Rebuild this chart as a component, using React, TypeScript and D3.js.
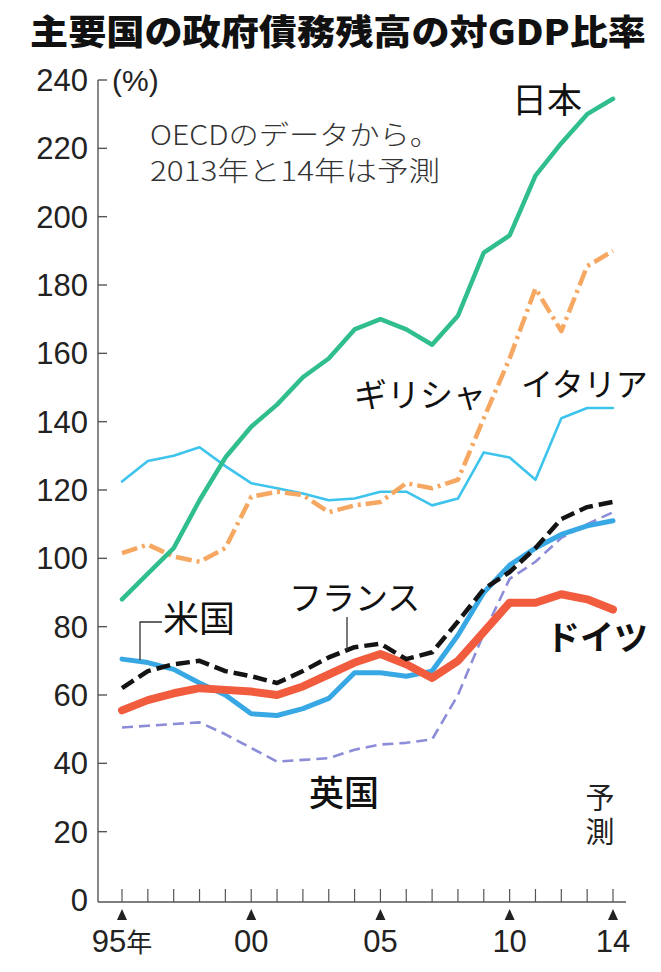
import * as d3 from 'd3';

// years on the x axis
const years = [1995, 1996, 1997, 1998, 1999, 2000, 2001, 2002, 2003, 2004,
  2005, 2006, 2007, 2008, 2009, 2010, 2011, 2012, 2013, 2014];

// debt / GDP (%)
const japan = [88, 95.5, 103, 117, 129.5, 138.5, 145, 153, 158.5, 167, 170, 167, 162.5, 171, 189.5, 194.5, 212, 221.5, 230, 234.5];
const greece = [101.5, 104, 100.5, 99, 103, 118, 119.5, 118.5, 113.5, 115.5, 116.5, 122, 120.5, 123, 141, 158.5, 179, 166.5, 185.5, 190];
const italy = [122.5, 128.5, 130, 132.5, 127, 122, 120.5, 119, 117, 117.5, 119.5, 119.5, 115.5, 117.5, 131, 129.5, 123, 141, 144, 144];
const us = [70.5, 69.5, 67.5, 63.5, 60, 54.5, 54, 56, 59, 66.5, 66.5, 65.5, 67, 77.5, 90, 98, 103, 107, 109.5, 111];
const france = [62, 67, 69, 70, 67, 65.5, 63.5, 67, 71, 74, 75, 70.5, 72.5, 81.5, 91, 96, 103, 111.5, 115, 116.5];
const germany = [55.5, 58.5, 60.5, 62, 61.5, 61, 60, 62.5, 66, 69.5, 72, 69, 65, 70, 78.5, 87, 87, 89.5, 88, 85];
const uk = [50.5, 51, 51.5, 52, 48.5, 44.5, 40.5, 41, 41.5, 44, 45.5, 46, 47, 60, 78, 94, 99, 106, 110, 113.5];

const yTicks = [0, 20, 40, 60, 80, 100, 120, 140, 160, 180, 200, 220, 240];
const xMarks = [1995, 2000, 2005, 2010, 2014];
const xLabels = ['95', '00', '05', '10', '14'];

const series = [
  { name: 'イタリア', values: italy, color: '#3ec4ec', width: 2.6, dash: null },
  { name: 'ギリシャ', values: greece, color: '#f6a862', width: 4.5, dash: '16 5 3 5' },
  { name: '日本', values: japan, color: '#2fbe8c', width: 4.5, dash: null },
  { name: '英国', values: uk, color: '#8c8cd8', width: 2.6, dash: '11 6' },
  { name: '米国', values: us, color: '#38a8e4', width: 5, dash: null },
  { name: 'ドイツ', values: germany, color: '#f25c3e', width: 8, dash: null },
  { name: 'フランス', values: france, color: '#141414', width: 4.5, dash: '14 6' },
];

const width = 661;
const height = 972;
const axisX = 98;
const axisY = 902;

const num = '"Liberation Sans Narrow", "Liberation Sans", sans-serif';
const jp = '"Noto Sans CJK JP", sans-serif';

export default function App() {
  const x = d3.scaleLinear().domain([1995, 2014]).range([122, 613]);
  const y = d3.scaleLinear().domain([0, 240]).range([900, 80]);

  const line = d3.line<number>()
    .x((_, i) => x(years[i]))
    .y(d => y(d));

  return (
    <svg width={width} height={height} viewBox={`0 0 ${width} ${height}`}
      style={{ position: 'absolute', left: 0, top: 0, background: '#fff' }}>
      {/* title */}
      <text x={30} y={45} fontFamily={jp} fontWeight={900} fontSize={35}
        textLength={616} lengthAdjust="spacingAndGlyphs" fill="#111">
        主要国の政府債務残高の対GDP比率
      </text>

      {/* y axis */}
      <line x1={axisX} x2={axisX} y1={y(240)} y2={axisY} stroke="#555" strokeWidth={1.4} />
      {yTicks.map(t => (
        <g key={t}>
          {t > 0 && <line x1={axisX} x2={axisX + 9} y1={y(t)} y2={y(t)} stroke="#555" strokeWidth={1.4} />}
          <text x={88} y={y(t)} dy="0.36em" textAnchor="end" fontFamily={num}
            fontSize={31} fill="#222">{t}</text>
        </g>
      ))}
      <text x={112} y={y(240)} dy="0.36em" fontFamily={num} fontSize={30} fill="#222">(%)</text>

      {/* x axis */}
      <line x1={axisX} x2={626} y1={axisY} y2={axisY} stroke="#555" strokeWidth={1.4} />
      {years.map(yr => (
        <line key={yr} x1={x(yr)} x2={x(yr)} y1={axisY - 13} y2={axisY} stroke="#555" strokeWidth={1.2} />
      ))}
      {xMarks.map((yr, i) => (
        <g key={yr}>
          <path d={`M${x(yr) - 5},${920} L${x(yr) + 5},${920} L${x(yr)},${909} Z`} fill="#222" />
          <text x={x(yr)} y={952} textAnchor="middle" fontFamily={num} fontSize={31} fill="#222">
            {xLabels[i]}
            {i === 0 && <tspan fontFamily={jp} fontSize={26}>年</tspan>}
          </text>
        </g>
      ))}

      {/* note */}
      <text x={150} y={145} fontFamily={jp} fontSize={27} fill="#333" fontWeight={300}
        textLength={290} lengthAdjust="spacingAndGlyphs">OECDのデータから。</text>
      <text x={150} y={181} fontFamily={jp} fontSize={27} fill="#333" fontWeight={300}
        textLength={290} lengthAdjust="spacingAndGlyphs">2013年と14年は予測</text>

      {/* lines */}
      {series.map(s => (
        <path key={s.name} d={line(s.values) ?? ''} fill="none" stroke={s.color}
          strokeWidth={s.width} strokeDasharray={s.dash ?? undefined}
          strokeLinejoin="round" strokeLinecap={s.dash ? 'butt' : 'round'} />
      ))}

      {/* labels */}
      <text x={512} y={113} fontFamily={jp} fontSize={35} fill="#111">日本</text>
      <text x={354} y={407} fontFamily={jp} fontSize={33} fill="#111">ギリシャ</text>
      <text x={521} y={396} fontFamily={jp} fontSize={32} fill="#111">イタリア</text>
      <text x={289} y={610} fontFamily={jp} fontSize={33} fill="#111">フランス</text>
      <text x={163} y={632} fontFamily={jp} fontSize={36} fill="#111">米国</text>
      <text x={546} y={650} fontFamily={jp} fontSize={34} fontWeight={700} fill="#111">ドイツ</text>
      <text x={309} y={806} fontFamily={jp} fontSize={35} fontWeight={500} fill="#111">英国</text>
      <text x={600} y={783} fontFamily={jp} fontSize={29} fill="#222" letterSpacing={5}
        style={{ writingMode: 'vertical-rl' }}>予測</text>

      {/* leaders */}
      <path d="M162,622 H140 V660" fill="none" stroke="#333" strokeWidth={1.3} />
      <line x1={347} x2={347} y1={617} y2={650} stroke="#333" strokeWidth={1.3} />
    </svg>
  );
}
